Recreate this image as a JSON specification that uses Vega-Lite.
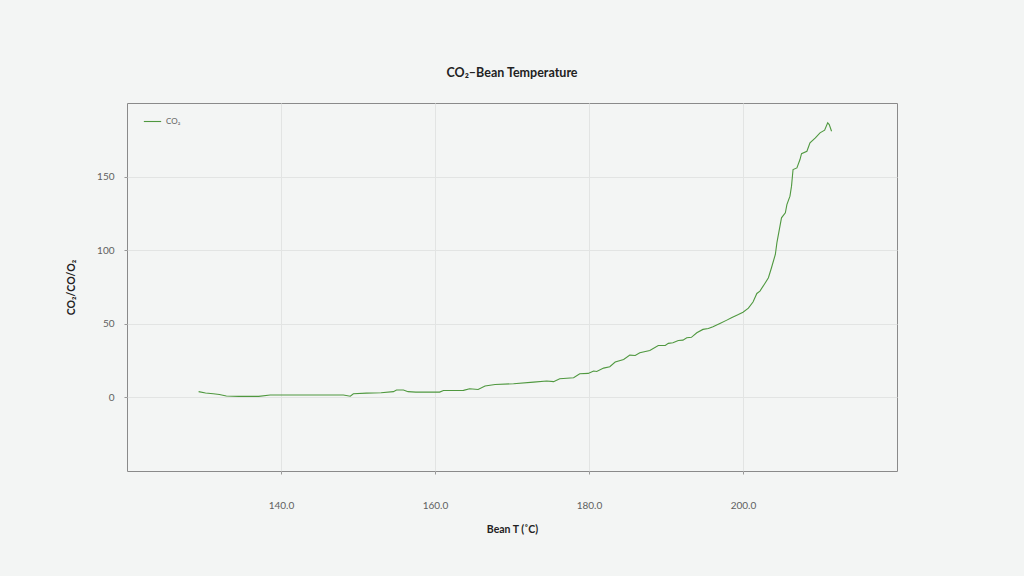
{
  "$schema": "https://vega.github.io/schema/vega-lite/v6.json",
  "description": "CO2 against bean temperature",
  "autosize": "none",
  "width": 770,
  "height": 368,
  "padding": {"left": 127, "top": 103, "right": 127, "bottom": 105},
  "background": "#f3f5f4",
  "title": {
    "text": "CO₂–Bean Temperature",
    "font": "Lato",
    "fontSize": 12.5,
    "fontWeight": "bold",
    "color": "#222222",
    "anchor": "middle",
    "offset": 24
  },
  "config": {
    "view": {"stroke": "#8a8a8a", "strokeWidth": 1},
    "font": "Lato",
    "axis": {
      "domain": false,
      "gridColor": "#e2e4e3",
      "gridWidth": 1,
      "tickColor": "#9a9a9a",
      "tickSize": 3,
      "labelFont": "Lato",
      "labelFontSize": 10,
      "labelColor": "#606060",
      "titleFont": "Lato",
      "titleFontSize": 10.5,
      "titleFontWeight": "bold",
      "titleColor": "#222222"
    }
  },
  "data": {
    "values": [
      {"t": 129.3, "co2": 3.9}, {"t": 130.2, "co2": 3.0}, {"t": 131.2, "co2": 2.5},
      {"t": 132.0, "co2": 2.0}, {"t": 132.9, "co2": 0.9}, {"t": 134.5, "co2": 0.7},
      {"t": 137.1, "co2": 0.7}, {"t": 138.6, "co2": 1.6}, {"t": 143.0, "co2": 1.6},
      {"t": 148.1, "co2": 1.6}, {"t": 149.0, "co2": 0.8}, {"t": 149.4, "co2": 2.5},
      {"t": 151.1, "co2": 2.9}, {"t": 153.0, "co2": 3.2}, {"t": 154.6, "co2": 3.9},
      {"t": 155.0, "co2": 5.0}, {"t": 155.9, "co2": 5.0}, {"t": 156.5, "co2": 3.9},
      {"t": 157.5, "co2": 3.6}, {"t": 160.6, "co2": 3.6}, {"t": 161.1, "co2": 4.7},
      {"t": 163.7, "co2": 4.8}, {"t": 164.5, "co2": 5.9}, {"t": 165.6, "co2": 5.4},
      {"t": 166.5, "co2": 7.7}, {"t": 167.8, "co2": 8.8}, {"t": 170.2, "co2": 9.3},
      {"t": 172.8, "co2": 10.4}, {"t": 174.5, "co2": 11.1}, {"t": 175.4, "co2": 10.7},
      {"t": 176.2, "co2": 12.7}, {"t": 178.0, "co2": 13.4}, {"t": 178.8, "co2": 16.1},
      {"t": 179.9, "co2": 16.3}, {"t": 180.6, "co2": 17.9}, {"t": 181.0, "co2": 17.6},
      {"t": 181.9, "co2": 19.9}, {"t": 182.7, "co2": 20.8}, {"t": 183.4, "co2": 24.0},
      {"t": 184.5, "co2": 25.8}, {"t": 185.3, "co2": 28.7}, {"t": 186.0, "co2": 28.5},
      {"t": 186.6, "co2": 30.3}, {"t": 187.9, "co2": 31.9}, {"t": 189.0, "co2": 35.3},
      {"t": 189.9, "co2": 35.3}, {"t": 190.3, "co2": 36.7}, {"t": 190.9, "co2": 37.1},
      {"t": 191.6, "co2": 38.7}, {"t": 192.2, "co2": 38.9}, {"t": 192.7, "co2": 40.5},
      {"t": 193.3, "co2": 40.8}, {"t": 194.0, "co2": 43.9}, {"t": 194.8, "co2": 46.2},
      {"t": 195.5, "co2": 46.8}, {"t": 196.1, "co2": 48.0}, {"t": 197.0, "co2": 50.2},
      {"t": 197.9, "co2": 52.5}, {"t": 198.5, "co2": 54.1}, {"t": 199.4, "co2": 56.3},
      {"t": 200.0, "co2": 57.9}, {"t": 200.7, "co2": 60.6}, {"t": 201.3, "co2": 64.8},
      {"t": 201.8, "co2": 70.6}, {"t": 202.2, "co2": 72.2}, {"t": 202.9, "co2": 77.9},
      {"t": 203.3, "co2": 81.3}, {"t": 203.7, "co2": 88.1}, {"t": 204.2, "co2": 97.1},
      {"t": 204.4, "co2": 105.0}, {"t": 204.8, "co2": 116.3}, {"t": 205.0, "co2": 122.0},
      {"t": 205.5, "co2": 125.4}, {"t": 205.7, "co2": 131.0}, {"t": 206.1, "co2": 136.7},
      {"t": 206.3, "co2": 143.5}, {"t": 206.5, "co2": 154.8}, {"t": 207.0, "co2": 155.9},
      {"t": 207.4, "co2": 161.6}, {"t": 207.6, "co2": 165.6}, {"t": 208.3, "co2": 167.2},
      {"t": 208.7, "co2": 172.9}, {"t": 209.4, "co2": 176.3}, {"t": 210.0, "co2": 179.7},
      {"t": 210.6, "co2": 181.5}, {"t": 211.0, "co2": 186.5}, {"t": 211.2, "co2": 185.3},
      {"t": 211.5, "co2": 180.8}
    ]
  },
  "mark": {"type": "line", "strokeWidth": 1.1, "interpolate": "linear"},
  "encoding": {
    "x": {
      "field": "t",
      "type": "quantitative",
      "title": "Bean T (˚C)",
      "scale": {"domain": [120, 220], "nice": false},
      "axis": {"values": [140, 160, 180, 200], "format": ".1f", "labelPadding": 26, "titlePadding": 14}
    },
    "y": {
      "field": "co2",
      "type": "quantitative",
      "title": "CO₂/CO/O₂",
      "scale": {"domain": [-50, 200], "nice": false},
      "axis": {"values": [0, 50, 100, 150], "labelPadding": 10, "titlePadding": 20}
    },
    "color": {
      "datum": "CO₂",
      "scale": {"range": ["#4f983f"]},
      "legend": {
        "title": null,
        "orient": "none",
        "legendX": 14,
        "legendY": 7,
        "symbolType": "stroke",
        "symbolSize": 300,
        "symbolStrokeWidth": 1.1,
        "labelFont": "Lato",
        "labelFontSize": 8,
        "labelColor": "#606060",
        "padding": 2
      }
    }
  }
}
